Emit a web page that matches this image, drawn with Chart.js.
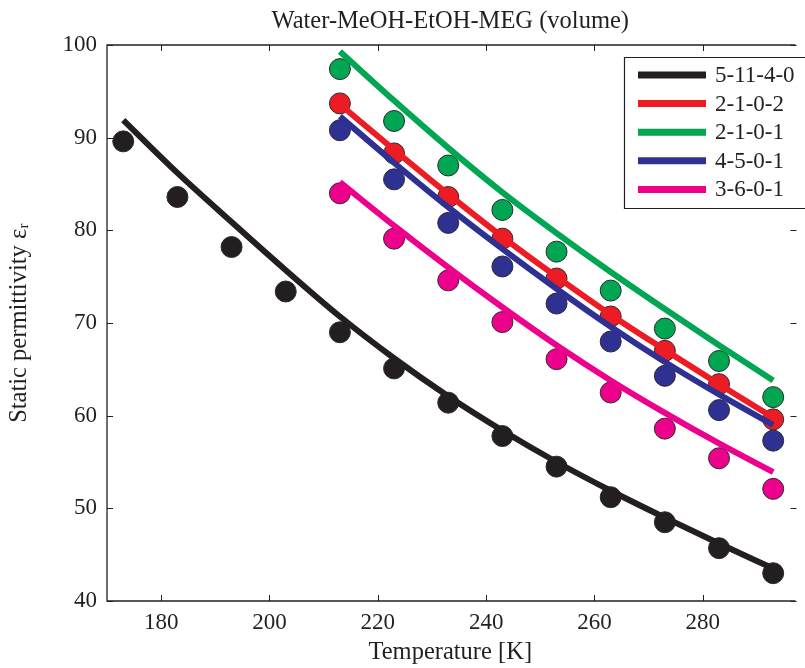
<!DOCTYPE html>
<html><head><meta charset="utf-8">
<script src="https://cdn.jsdelivr.net/npm/chart.js@4"></script>
<style>
html,body{margin:0;padding:0;overflow:hidden;background:#fff;width:805px;height:668px}
#wrap{width:805px;height:668px;position:relative}
</style>
</head><body><div id="wrap"><canvas id="c" width="805" height="668"></canvas></div>
<script>
const temperatures = [173,183,193,203,213,223,233,243,253,263,273,283,293];
const temperaturesShort = [213,223,233,243,253,263,273,283,293];
const seriesNames = ['5-11-4-0','2-1-0-2','2-1-0-1','4-5-0-1','3-6-0-1'];
const seriesColors = ['#231f20','#ed1c24','#00a651','#2e3192','#ec008c'];
const meas_5_11_4_0 = [89.6,83.6,78.2,73.4,69.0,65.1,61.4,57.8,54.5,51.2,48.5,45.7,43.0];
const fit_5_11_4_0  = [91.9,86.2,80.9,75.7,70.7,66.2,62.1,58.4,55.0,51.9,49.0,46.2,43.5];
const meas_2_1_0_2 = [93.7,88.3,83.6,79.1,74.8,70.7,67.0,63.4,59.6];
const fit_2_1_0_2  = [93.6,88.7,83.9,79.3,75.0,70.9,67.1,63.4,59.8];
const meas_2_1_0_1 = [97.4,91.8,87.0,82.2,77.7,73.5,69.4,65.9,62.0];
const fit_2_1_0_1  = [99.3,94.0,88.9,84.1,79.7,75.5,71.5,67.6,63.8];
const meas_4_5_0_1 = [90.8,85.5,80.8,76.1,72.1,68.0,64.3,60.6,57.3];
const fit_4_5_0_1  = [92.3,87.3,82.5,78.0,73.7,69.6,65.8,62.3,59.0];
const meas_3_6_0_1 = [84.0,79.1,74.6,70.1,66.1,62.5,58.6,55.4,52.1];
const fit_3_6_0_1  = [85.2,80.5,76.0,71.7,67.6,63.8,60.3,57.0,53.9];
const xTicks = [180,200,220,240,260,280];
const yTicks = [40,50,60,70,80,90,100];

const FONT = "'Liberation Serif', 'Times New Roman', serif";
const INK = '#231f20';
const FS_TICK = 23;
const FS_LABEL = 24.5;

const measured = [meas_5_11_4_0, meas_2_1_0_2, meas_2_1_0_1, meas_4_5_0_1, meas_3_6_0_1];
const fitted = [fit_5_11_4_0, fit_2_1_0_2, fit_2_1_0_1, fit_4_5_0_1, fit_3_6_0_1];
const xsFor = i => (i === 0 ? temperatures : temperaturesShort);
const pts = (xs, ys) => ys.map((y, k) => ({x: xs[k], y}));

const datasets = [];
seriesNames.forEach((name, i) => {
  datasets.push({
    label: name + ' fit', data: pts(xsFor(i), fitted[i]), showLine: true,
    borderColor: seriesColors[i], backgroundColor: seriesColors[i], borderWidth: 6,
    pointRadius: 0, cubicInterpolationMode: 'monotone', borderCapStyle: 'butt',
    order: 0
  });
  datasets.push({
    label: name, data: pts(xsFor(i), measured[i]), showLine: false,
    backgroundColor: seriesColors[i], borderColor: '#2a2a2a', borderWidth: 1,
    pointRadius: 10.5, pointHoverRadius: 10.5, order: 1
  });
});

const frameAndLegend = {
  id: 'frameAndLegend',
  afterDraw(chart) {
    const {ctx, chartArea: a, scales} = chart;
    ctx.save();
    ctx.strokeStyle = INK; ctx.lineWidth = 1.3;
    ctx.beginPath();
    ctx.moveTo(a.right + 2, a.top); ctx.lineTo(a.left, a.top);
    ctx.lineTo(a.left, a.bottom); ctx.lineTo(a.right + 2, a.bottom);
    ctx.stroke();
    ctx.lineWidth = 1;
    const tl = 6;
    ctx.beginPath();
    xTicks.forEach(v => {
      const x = Math.round(scales.x.getPixelForValue(v)) + 0.5;
      ctx.moveTo(x, a.bottom); ctx.lineTo(x, a.bottom - tl);
      ctx.moveTo(x, a.top); ctx.lineTo(x, a.top + tl);
    });
    yTicks.forEach(v => {
      const y = Math.round(scales.y.getPixelForValue(v)) + 0.5;
      ctx.moveTo(a.left, y); ctx.lineTo(a.left + tl, y);
      ctx.moveTo(a.right + 3, y); ctx.lineTo(a.right + 3 - tl, y);
    });
    ctx.stroke();
    // legend
    const bx = 624.5, by = 57.5, bw = 200, bh = 151;
    ctx.fillStyle = '#fff';
    ctx.fillRect(bx, by, bw, bh);
    ctx.strokeStyle = INK; ctx.lineWidth = 1.2;
    ctx.beginPath();
    ctx.moveTo(bx + bw, by); ctx.lineTo(bx, by); ctx.lineTo(bx, by + bh); ctx.lineTo(bx + bw, by + bh);
    ctx.stroke();
    ctx.font = FS_TICK + 'px ' + FONT;
    ctx.textBaseline = 'middle';
    seriesNames.forEach((name, i) => {
      const y = 75 + i * 28.6;
      ctx.strokeStyle = seriesColors[i]; ctx.lineWidth = 7; ctx.lineCap = 'butt';
      ctx.beginPath(); ctx.moveTo(638, y); ctx.lineTo(706, y); ctx.stroke();
      ctx.fillStyle = INK;
      ctx.fillText(name, 715, y + 1);
    });
    ctx.restore();
  }
};

new Chart(document.getElementById('c'), {
  type: 'scatter',
  data: {datasets},
  options: {
    responsive: false, animation: false,
    layout: {padding: {top: 0, right: 0, bottom: 0, left: 0}},
    plugins: {
      legend: {display: false}, tooltip: {enabled: false},
      title: {display: true, fullSize: false, text: 'Water-MeOH-EtOH-MEG (volume)', color: INK,
        font: {family: FONT, size: FS_LABEL, weight: 'normal', lineHeight: 1.2}, padding: {top: 6.5, bottom: 9.1}}
    },
    scales: {
      x: {
        type: 'linear', min: 170, max: 296.75,
        afterBuildTicks: s => { s.ticks = xTicks.map(v => ({value: v})); },
        afterFit: s => { s.height = 67; },
        grid: {display: false, drawTicks: false}, border: {display: false},
        ticks: {color: INK, font: {family: FONT, size: FS_TICK}, padding: 8},
        title: {display: true, text: 'Temperature [K]', color: INK,
          font: {family: FONT, size: FS_LABEL}, padding: {top: 1, bottom: 1}}
      },
      y: {
        type: 'linear', min: 40, max: 100,
        afterBuildTicks: s => { s.ticks = yTicks.map(v => ({value: v})); },
        afterFit: s => { s.width = 107; },
        grid: {display: false, drawTicks: false}, border: {display: false},
        ticks: {color: INK, font: {family: FONT, size: FS_TICK}, padding: 10},
        title: {display: true, text: 'Static permittivity ε\u1D63', color: INK,
          font: {family: FONT, size: FS_LABEL}, padding: {top: 5, bottom: 0}}
      }
    }
  },
  plugins: [frameAndLegend]
});
</script>
</body></html>
